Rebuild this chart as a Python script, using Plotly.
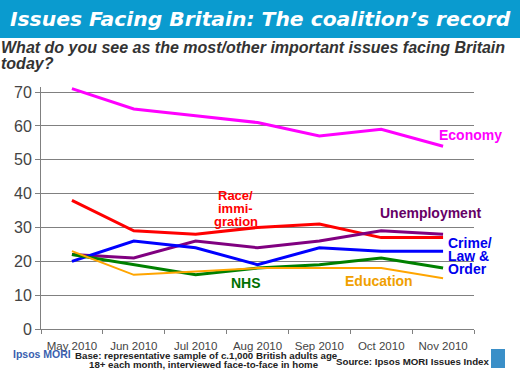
import plotly.graph_objects as go

months = ["May 2010", "Jun 2010", "Jul 2010", "Aug 2010", "Sep 2010", "Oct 2010", "Nov 2010"]
economy = [71, 65, 63, 61, 57, 59, 54]
race_immigration = [38, 29, 28, 30, 31, 27, 27]
unemployment = [22, 21, 26, 24, 26, 29, 28]
crime = [20, 26, 24, 19, 24, 23, 23]
nhs = [22, 19, 16, 18, 19, 21, 18]
education = [23, 16, 17, 18, 18, 18, 15]
y_ticks = [0, 10, 20, 30, 40, 50, 60, 70]

series = [
    ("Economy", economy, "#FF00FF", 3),
    ("Race/immigration", race_immigration, "#FF0000", 3),
    ("Unemployment", unemployment, "#800080", 3),
    ("Crime/Law & Order", crime, "#0000FF", 3),
    ("NHS", nhs, "#008000", 3),
    ("Education", education, "#FFA500", 2),
]

fig = go.Figure()
for name, vals, color, w in series:
    fig.add_trace(go.Scatter(x=months, y=vals, mode="lines", name=name,
                             line=dict(color=color, width=w), showlegend=False,
                             hoverinfo="skip"))

L, R, T, B = 41, 46, 87, 41
W, H = 520, 370
pw, ph = W - L - R, H - T - B

def px(x):
    return (x - L) / pw

def py(y):
    return (H - B - y) / ph

fig.update_layout(
    width=W, height=H,
    margin=dict(l=L, r=R, t=T, b=B, pad=0, autoexpand=False),
    paper_bgcolor="white", plot_bgcolor="white",
    font=dict(family="Liberation Sans, Arial, sans-serif", color="#333333"),
    xaxis=dict(type="category", range=[-0.5, 6.5], showgrid=False, automargin=False,
               showline=True, linecolor="#808080", linewidth=1, tickangle=0,
               ticks="outside", tickson="boundaries", ticklen=4, tickcolor="#808080",
               ticklabelstandoff=6,
               tickfont=dict(size=11.5, color="#444444"), zeroline=False),
    yaxis=dict(range=[0, 71.5], tickvals=y_ticks, showgrid=True, automargin=False,
               gridcolor="#808080", gridwidth=1,
               showline=True, linecolor="#808080", linewidth=1,
               ticks="outside", ticklen=5, tickcolor="#808080",
               tickfont=dict(size=16, color="#444444"), zeroline=False),
    shapes=[
        dict(type="rect", xref="paper", yref="paper",
             x0=px(0), x1=px(W), y0=py(38), y1=py(0),
             fillcolor="#0A9BCF", line=dict(width=0), layer="below"),
        dict(type="rect", xref="paper", yref="paper",
             x0=px(491), x1=px(505), y0=py(368), y1=py(349),
             fillcolor="#3A8FC8", line=dict(width=0)),
    ],
)

ann = []

def ptext(text, x, y, size, color, xanchor="left", family=None, italic=False):
    t = "<b>" + text + "</b>"
    if italic:
        t = "<i>" + t + "</i>"
    f = dict(size=size, color=color)
    if family:
        f["family"] = family
    ann.append(dict(text=t, xref="paper", yref="paper", x=px(x), y=py(y),
                    xanchor=xanchor, yanchor="middle", showarrow=False, font=f))

ptext("Issues Facing Britain: The coalition\u2019s record", 260, 19, 20.3, "white",
      xanchor="center", family="DejaVu Sans, sans-serif", italic=True)
ptext("What do you see as the most/other important issues facing Britain", -1, 47, 16.0,
      "#333333", italic=True)
ptext("today?", -1, 63, 16.0, "#333333", italic=True)
ptext("Ipsos MORI", 11, 354, 10.5, "#3A5FAF")
ptext("Base: representative sample of c.1,000 British adults age", 73, 355, 9.7, "#222222")
ptext("18+ each month, interviewed face-to-face in home", 87, 364.5, 9.7, "#222222")
ptext("Source: Ipsos MORI Issues Index", 492, 361, 9.7, "#222222", xanchor="right")

def lab(lines, x, y0, dy, color, size=14, xanchor="center"):
    for i, t in enumerate(lines):
        ann.append(dict(text="<b>" + t + "</b>", x=x, y=y0 - i * dy, xref="x", yref="y",
                        showarrow=False, xanchor=xanchor, yanchor="middle",
                        font=dict(size=size, color=color)))

lab(["Economy"], 6.45, 57.3, 0, "#FF00FF")
lab(["Race/", "immi-", "gration"], 2.65, 39.4, 3.8, "#FF0000", size=13)
lab(["Unemployment"], 5.79, 34.3, 0, "#660066")
lab(["Crime/", "Law &", "Order"], 6.05, 25.4, 3.8, "#0000EE", xanchor="left")
lab(["NHS"], 2.81, 13.6, 0, "#007000")
lab(["Education"], 4.96, 14.2, 0, "#F0A000")

fig.update_layout(annotations=ann)
fig.write_html("out.html", config={"displayModeBar": False, "staticPlot": True},
               post_script="document.body.style.margin='0';document.body.style.padding='0';")
